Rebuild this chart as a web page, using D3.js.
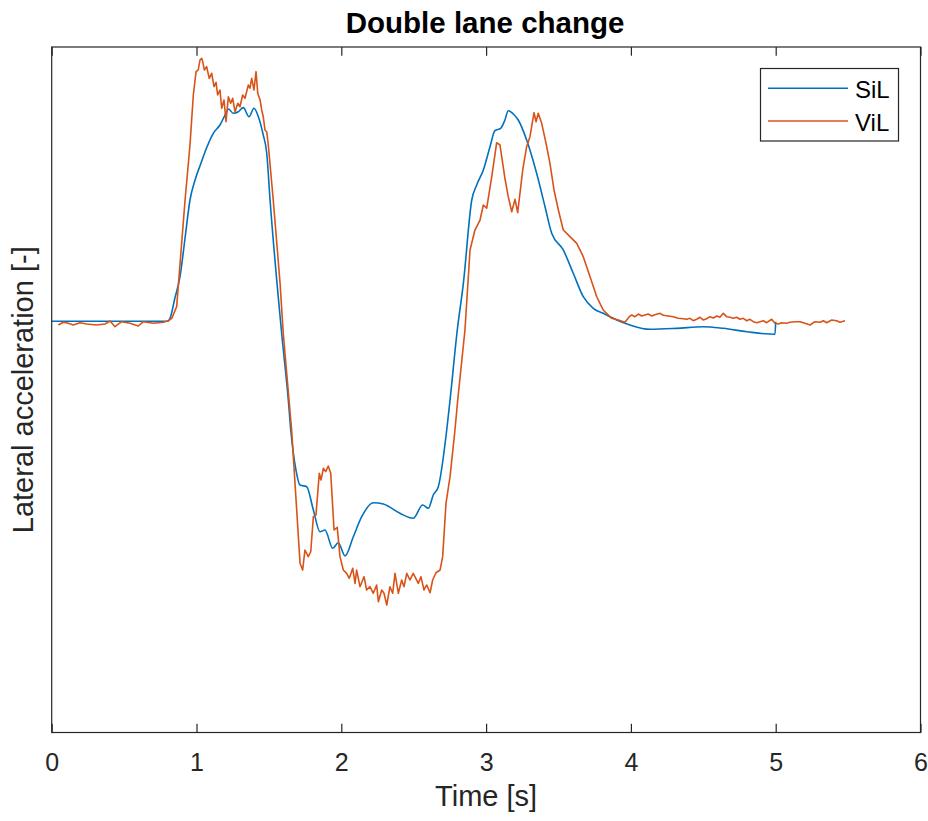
<!DOCTYPE html>
<html>
<head>
<meta charset="utf-8">
<script src="https://cdn.jsdelivr.net/npm/d3@7"></script>
<style>
  html, body { margin: 0; padding: 0; background: #fff; }
  svg { display: block; }
  text { font-family: "Liberation Sans", Arial, Helvetica, sans-serif; }
</style>
</head>
<body>
<svg id="chart" width="928" height="821"></svg>
<script>
// Simulated (SiL) lateral acceleration
const silTime = [0, 0.803, 0.817, 0.851, 0.886, 0.921, 0.955, 0.990, 1.030, 1.070,
  1.116, 1.162, 1.197, 1.220, 1.254, 1.289, 1.323, 1.363, 1.397, 1.427,
  1.461, 1.485, 1.508, 1.588, 1.634, 1.651, 1.687, 1.715, 1.761, 1.807,
  1.853, 1.887, 1.941, 1.979, 2.026, 2.083, 2.141, 2.221, 2.290, 2.405,
  2.497, 2.562, 2.601, 2.635, 2.670, 2.728, 2.751, 2.801, 2.843, 2.901,
  2.935, 2.981, 3.027, 3.061, 3.101, 3.130, 3.153, 3.188, 3.222, 3.280,
  3.349, 3.407, 3.453, 3.533, 3.602, 3.671, 3.740, 3.809, 3.856, 3.902,
  3.994, 4.132, 4.316, 4.500, 4.638, 4.800, 4.995, 5.000];
const silAcc = [0, 0, 0.042, 0.338, 0.649, 1.214, 1.768, 2.060, 2.300, 2.530,
  2.741, 2.862, 3.008, 3.096, 3.033, 3.056, 3.115, 2.983, 3.106, 2.983,
  2.716, 2.454, 1.768, -0.172, -1.150, -1.587, -2.171, -2.390, -2.414, -2.754,
  -3.071, -3.046, -3.313, -3.231, -3.425, -3.144, -2.852, -2.648, -2.667, -2.802,
  -2.875, -2.681, -2.729, -2.535, -2.414, -1.587, -1.150, -0.128, 0.553, 1.768,
  1.987, 2.206, 2.546, 2.779, 2.814, 2.935, 3.071, 3.023, 2.935, 2.643,
  2.158, 1.670, 1.282, 1.039, 0.699, 0.357, 0.188, 0.115, 0.066, 0.018,
  -0.055, -0.118, -0.104, -0.080, -0.104, -0.153, -0.191, -0.007];

// Vehicle-in-the-loop (ViL) measured lateral acceleration
const vilTime = [0.046, 0.080, 0.115, 0.149, 0.195, 0.242, 0.311, 0.368, 0.403, 0.437,
  0.483, 0.541, 0.598, 0.633, 0.702, 0.771, 0.805, 0.829, 0.863, 0.921,
  0.955, 0.978, 0.997, 1.012, 1.024, 1.036, 1.043, 1.054, 1.070, 1.088,
  1.105, 1.121, 1.135, 1.146, 1.162, 1.174, 1.190, 1.204, 1.220, 1.236,
  1.250, 1.266, 1.285, 1.300, 1.319, 1.335, 1.358, 1.369, 1.381, 1.397,
  1.411, 1.423, 1.439, 1.450, 1.461, 1.473, 1.485, 1.496, 1.530, 1.577,
  1.599, 1.639, 1.657, 1.692, 1.715, 1.733, 1.749, 1.772, 1.789, 1.807,
  1.825, 1.848, 1.860, 1.876, 1.892, 1.910, 1.927, 1.950, 1.972, 1.991,
  2.014, 2.037, 2.055, 2.079, 2.095, 2.106, 2.129, 2.157, 2.175, 2.198,
  2.221, 2.244, 2.256, 2.279, 2.295, 2.314, 2.336, 2.355, 2.371, 2.394,
  2.417, 2.433, 2.452, 2.474, 2.497, 2.532, 2.550, 2.571, 2.590, 2.613,
  2.631, 2.654, 2.682, 2.700, 2.723, 2.751, 2.785, 2.804, 2.854, 2.889,
  2.923, 2.958, 2.981, 3.004, 3.039, 3.073, 3.096, 3.130, 3.153, 3.177,
  3.200, 3.218, 3.253, 3.280, 3.303, 3.331, 3.345, 3.360, 3.384, 3.414,
  3.441, 3.469, 3.499, 3.533, 3.579, 3.626, 3.671, 3.718, 3.764, 3.809,
  3.867, 3.913, 3.959, 3.989, 4.006, 4.028, 4.051, 4.075, 4.097, 4.120,
  4.144, 4.166, 4.201, 4.224, 4.258, 4.293, 4.327, 4.362, 4.385, 4.408,
  4.431, 4.454, 4.477, 4.500, 4.523, 4.546, 4.569, 4.593, 4.615, 4.638,
  4.662, 4.684, 4.707, 4.731, 4.753, 4.776, 4.800, 4.822, 4.845, 4.869,
  4.892, 4.914, 4.938, 4.972, 4.995, 5.018, 5.041, 5.076, 5.099, 5.133,
  5.168, 5.202, 5.237, 5.271, 5.306, 5.329, 5.352, 5.387, 5.421, 5.444,
  5.479];
const vilAcc = [-0.055, -0.016, -0.031, -0.055, -0.022, -0.041, -0.055, -0.041, 0.003, -0.080,
  -0.007, -0.031, -0.070, -0.007, -0.031, -0.016, 0.007, 0.042, 0.212, 1.768,
  2.570, 3.300, 3.640, 3.665, 3.810, 3.835, 3.786, 3.665, 3.713, 3.543,
  3.616, 3.421, 3.485, 3.300, 3.373, 3.106, 3.227, 2.910, 3.275, 3.179,
  3.252, 3.056, 3.179, 3.129, 3.300, 3.252, 3.446, 3.398, 3.543, 3.373,
  3.640, 3.325, 3.227, 3.081, 2.983, 2.789, 2.764, 2.570, 1.768, 0.557,
  -0.172, -1.150, -1.587, -2.754, -3.532, -3.630, -3.338, -3.435, -3.363, -2.852,
  -2.827, -2.219, -2.317, -2.146, -2.195, -2.112, -2.219, -3.046, -3.007, -3.435,
  -3.630, -3.678, -3.751, -3.605, -3.824, -3.630, -3.873, -3.727, -3.921, -3.873,
  -3.969, -3.848, -4.092, -3.921, -3.969, -4.140, -3.873, -3.969, -3.678, -3.969,
  -3.775, -3.873, -3.678, -3.775, -3.678, -3.824, -3.727, -3.921, -3.848, -3.961,
  -3.775, -3.669, -3.630, -3.435, -2.657, -2.268, -1.587, -1.150, -0.128, 1.039,
  1.330, 1.476, 1.695, 1.647, 2.108, 2.604, 2.570, 2.085, 1.816, 1.597,
  1.778, 1.583, 2.206, 2.546, 2.692, 3.042, 2.910, 3.033, 2.887, 2.595,
  2.303, 1.914, 1.622, 1.330, 1.233, 1.136, 0.941, 0.649, 0.357, 0.163,
  0.042, 0.018, -0.016, 0.066, 0.090, 0.066, 0.105, 0.076, 0.090, 0.105,
  0.076, 0.095, 0.115, 0.086, 0.076, 0.066, 0.042, 0.036, 0.028, 0.042,
  0.007, 0.028, 0.057, 0.018, 0.036, 0.066, 0.047, 0.076, 0.057, 0.115,
  0.066, 0.057, 0.042, 0.057, 0.028, 0.042, 0.007, 0.028, -0.007, -0.022,
  -0.007, 0.007, -0.022, 0.028, -0.031, -0.041, -0.022, -0.031, -0.016, -0.007,
  -0.007, -0.031, -0.055, -0.007, -0.016, 0.007, -0.022, 0.018, 0.007, -0.016,
  0.007];

const xTicks = [0, 1, 2, 3, 4, 5, 6];
const seriesNames = ["SiL", "ViL"];
const seriesColors = ["#0072BD", "#D95319"];

const W = 928, H = 821;
const margin = { left: 51.7, right: 7.5, top: 47, bottom: 88.5 };
const x0 = margin.left, x1 = W - margin.right;
const y0 = H - margin.bottom, y1 = margin.top;

const svg = d3.select("#chart");
const axisColor = "#262626";
const font = '"Liberation Sans", Arial, Helvetica, sans-serif';

const x = d3.scaleLinear().domain([0, 6]).range([x0, x1]);
const y = d3.scaleLinear().domain([-6, 4]).range([y0, y1]);

svg.append("rect").attr("width", W).attr("height", H).attr("fill", "#fff");

// Data lines
const sil = silTime.map((t, i) => [t, silAcc[i]]);
const vil = vilTime.map((t, i) => [t, vilAcc[i]]);

const lineSmooth = d3.line().x(d => x(d[0])).y(d => y(d[1])).curve(d3.curveMonotoneX);
const lineRaw = d3.line().x(d => x(d[0])).y(d => y(d[1]));

svg.append("path").datum(sil)
  .attr("d", lineSmooth)
  .attr("fill", "none").attr("stroke", seriesColors[0])
  .attr("stroke-width", 1.6).attr("stroke-linejoin", "round");

svg.append("path").datum(vil)
  .attr("d", lineRaw)
  .attr("fill", "none").attr("stroke", seriesColors[1])
  .attr("stroke-width", 1.6).attr("stroke-linejoin", "round");

// Axes box
svg.append("rect")
  .attr("x", x0).attr("y", y1)
  .attr("width", x1 - x0).attr("height", y0 - y1)
  .attr("fill", "none").attr("stroke", axisColor).attr("stroke-width", 1.2);

const tickLen = 8.7;
const bottomAxis = d3.axisBottom(x).tickValues(xTicks).tickFormat(d3.format("d"))
  .tickSizeInner(-tickLen).tickSizeOuter(0).tickPadding(21);
const gx = svg.append("g").attr("transform", `translate(0,${y0})`).call(bottomAxis);
gx.select(".domain").remove();
gx.selectAll(".tick line").attr("stroke", axisColor).attr("stroke-width", 1.2);
gx.selectAll(".tick text").attr("fill", axisColor)
  .attr("font-size", 25).attr("font-family", font);

const topAxis = d3.axisTop(x).tickValues(xTicks).tickFormat("")
  .tickSizeInner(-tickLen).tickSizeOuter(0);
const gt = svg.append("g").attr("transform", `translate(0,${y1})`).call(topAxis);
gt.select(".domain").remove();
gt.selectAll(".tick line").attr("stroke", axisColor).attr("stroke-width", 1.2);

// Labels and title
svg.append("text")
  .attr("x", (x0 + x1) / 2).attr("y", 806)
  .attr("text-anchor", "middle").attr("font-size", 29).attr("fill", axisColor)
  .text("Time [s]");

svg.append("text")
  .attr("transform", `translate(33,${(y0 + y1) / 2}) rotate(-90)`)
  .attr("text-anchor", "middle").attr("font-size", 29).attr("fill", axisColor)
  .text("Lateral acceleration [-]");

svg.append("text")
  .attr("x", (x0 + x1) / 2 - 1).attr("y", 33)
  .attr("text-anchor", "middle").attr("font-size", 29.5).attr("font-weight", "bold")
  .attr("fill", "#000")
  .text("Double lane change");

// Legend
const lg = svg.append("g");
lg.append("rect")
  .attr("x", 760.5).attr("y", 68.5).attr("width", 138).attr("height", 72.5)
  .attr("fill", "#fff").attr("stroke", axisColor).attr("stroke-width", 1.2);
const legendRows = [88.3, 121];
seriesNames.forEach((name, i) => {
  lg.append("line")
    .attr("x1", 768).attr("x2", 848)
    .attr("y1", legendRows[i]).attr("y2", legendRows[i])
    .attr("stroke", seriesColors[i]).attr("stroke-width", 1.6);
  lg.append("text")
    .attr("x", 855).attr("y", legendRows[i] + 9.5)
    .attr("font-size", 24).attr("fill", "#000")
    .text(name);
});
</script>
</body>
</html>
